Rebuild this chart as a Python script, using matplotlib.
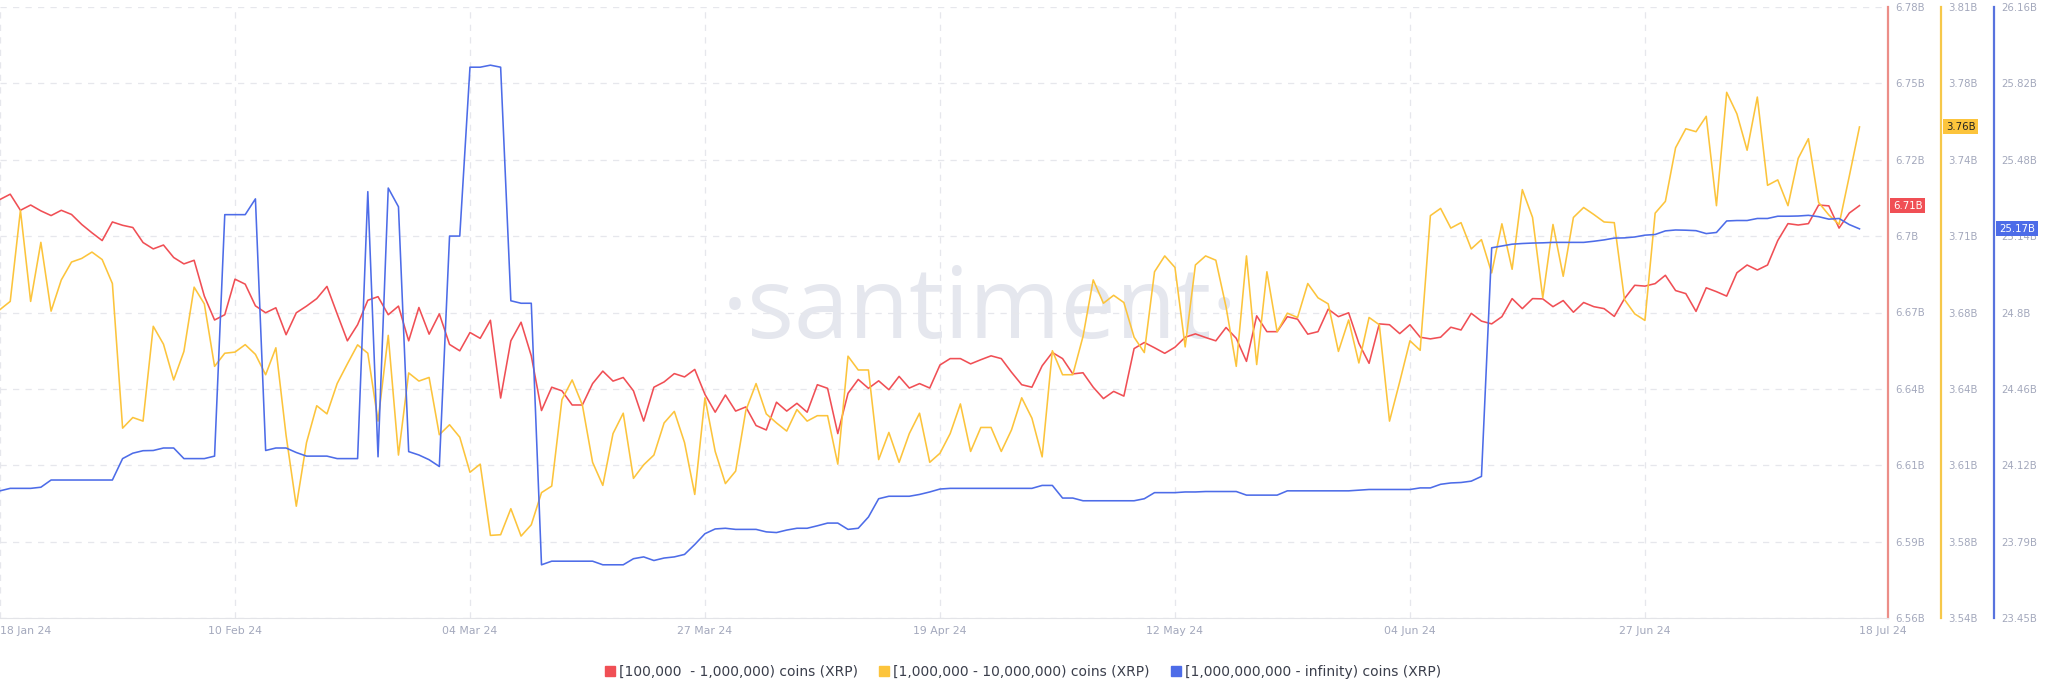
import matplotlib.pyplot as plt
from matplotlib.lines import Line2D
from matplotlib.transforms import blended_transform_factory
import pandas as pd

# daily values, 18 Jan 24 .. 18 Jul 24 (billions of XRP held per cohort)
dates = pd.date_range('2024-01-18', '2024-07-18', freq='D')

red_vals = [
    6.7107, 6.7126, 6.7068, 6.7087, 6.7066, 6.7049, 6.7068, 6.7053, 6.7017, 6.6987,
    6.6959, 6.7026, 6.7014, 6.7006, 6.6952, 6.6929, 6.6943, 6.6898, 6.6875, 6.6888,
    6.6759, 6.6673, 6.6692, 6.6820, 6.6802, 6.6724, 6.6699, 6.6717, 6.6620, 6.6699,
    6.6723, 6.6750, 6.6794, 6.6695, 6.6598, 6.6656, 6.6744, 6.6757, 6.6692, 6.6723,
    6.6598, 6.6718, 6.6622, 6.6695, 6.6585, 6.6562, 6.6628, 6.6607, 6.6672, 6.6392,
    6.6598, 6.6665, 6.6544, 6.6347, 6.6431, 6.6418, 6.6367, 6.6367, 6.6444, 6.6489,
    6.6453, 6.6466, 6.6418, 6.6309, 6.6431, 6.6450, 6.6480, 6.6468, 6.6495, 6.6405,
    6.6341, 6.6403, 6.6345, 6.6360, 6.6293, 6.6277, 6.6377, 6.6345, 6.6373, 6.6341,
    6.6440, 6.6427, 6.6264, 6.6409, 6.6459, 6.6427, 6.6454, 6.6422, 6.6470, 6.6428,
    6.6444, 6.6428, 6.6511, 6.6534, 6.6534, 6.6515, 6.6530, 6.6544, 6.6534, 6.6485,
    6.6440, 6.6431, 6.6508, 6.6556, 6.6534, 6.6479, 6.6483, 6.6431, 6.6390, 6.6416,
    6.6399, 6.6570, 6.6592, 6.6573, 6.6553, 6.6575, 6.6611, 6.6623, 6.6610, 6.6598,
    6.6646, 6.6607, 6.6524, 6.6688, 6.6631, 6.6631, 6.6685, 6.6676, 6.6622, 6.6631,
    6.6712, 6.6685, 6.6699, 6.6589, 6.6517, 6.6659, 6.6656, 6.6624, 6.6656, 6.6611,
    6.6605, 6.6611, 6.6647, 6.6637, 6.6697, 6.6669, 6.6659, 6.6685, 6.6750, 6.6714,
    6.6750, 6.6749, 6.6721, 6.6743, 6.6701, 6.6736, 6.6721, 6.6714, 6.6686, 6.6750,
    6.6798, 6.6795, 6.6804, 6.6834, 6.6779, 6.6768, 6.6704, 6.6789, 6.6775, 6.6759,
    6.6843, 6.6871, 6.6853, 6.6871, 6.6959, 6.7020, 6.7015, 6.7020, 6.7087, 6.7084,
    6.7004, 6.7058, 6.7085,
]

yellow_vals = [
    3.6763, 3.6799, 3.7202, 3.6799, 3.7060, 3.6756, 3.6894, 3.6973, 3.6989, 3.7017,
    3.6984, 3.6878, 3.6239, 3.6286, 3.6270, 3.6689, 3.6610, 3.6452, 3.6578, 3.6862,
    3.6788, 3.6512, 3.6570, 3.6575, 3.6608, 3.6565, 3.6475, 3.6594, 3.6207, 3.5894,
    3.6175, 3.6338, 3.6302, 3.6436, 3.6523, 3.6607, 3.6570, 3.6270, 3.6649, 3.6120,
    3.6483, 3.6447, 3.6463, 3.6210, 3.6254, 3.6199, 3.6044, 3.6080, 3.5765, 3.5768,
    3.5883, 3.5762, 3.5812, 3.5954, 3.5983, 3.6365, 3.6452, 3.6341, 3.6088, 3.5986,
    3.6215, 3.6305, 3.6017, 3.6077, 3.6120, 3.6262, 3.6313, 3.6175, 3.5946, 3.6373,
    3.6136, 3.5994, 3.6049, 3.6317, 3.6436, 3.6302, 3.6262, 3.6226, 3.6321, 3.6270,
    3.6294, 3.6294, 3.6080, 3.6557, 3.6496, 3.6496, 3.6100, 3.6220, 3.6088, 3.6215,
    3.6305, 3.6088, 3.6128, 3.6215, 3.6346, 3.6136, 3.6242, 3.6242, 3.6136, 3.6231,
    3.6373, 3.6283, 3.6112, 3.6581, 3.6475, 3.6475, 3.6644, 3.6894, 3.6791, 3.6826,
    3.6794, 3.6641, 3.6573, 3.6930, 3.7000, 3.6949, 3.6598, 3.6960, 3.7000, 3.6981,
    3.6775, 3.6512, 3.7000, 3.6520, 3.6930, 3.6665, 3.6747, 3.6728, 3.6878, 3.6815,
    3.6788, 3.6578, 3.6717, 3.6527, 3.6728, 3.6696, 3.6270, 3.6444, 3.6625, 3.6583,
    3.7178, 3.7210, 3.7123, 3.7147, 3.7031, 3.7072, 3.6925, 3.7142, 3.6941, 3.7293,
    3.7170, 3.6815, 3.7139, 3.6910, 3.7170, 3.7214, 3.7183, 3.7150, 3.7147, 3.6807,
    3.6744, 3.6715, 3.7189, 3.7241, 3.7478, 3.7562, 3.7549, 3.7617, 3.7222, 3.7723,
    3.7628, 3.7467, 3.7702, 3.7312, 3.7336, 3.7222, 3.7431, 3.7518, 3.7236, 3.7181,
    3.7139, 3.7352, 3.7570,
]

blue_vals = [
    24.014, 24.025, 24.025, 24.025, 24.030, 24.062, 24.062, 24.062, 24.062, 24.062,
    24.062, 24.062, 24.157, 24.181, 24.192, 24.193, 24.204, 24.204, 24.157, 24.157,
    24.157, 24.168, 25.239, 25.239, 25.239, 25.309, 24.193, 24.204, 24.204, 24.184,
    24.168, 24.168, 24.168, 24.157, 24.157, 24.157, 25.341, 24.165, 25.357, 25.274,
    24.188, 24.173, 24.152, 24.122, 25.144, 25.144, 25.893, 25.893, 25.902, 25.893,
    24.857, 24.846, 24.846, 23.686, 23.702, 23.702, 23.702, 23.702, 23.702, 23.686,
    23.686, 23.686, 23.713, 23.721, 23.705, 23.716, 23.721, 23.732, 23.776, 23.824,
    23.845, 23.848, 23.843, 23.843, 23.843, 23.832, 23.829, 23.840, 23.848, 23.848,
    23.859, 23.871, 23.871, 23.843, 23.848, 23.898, 23.979, 23.990, 23.990, 23.990,
    23.998, 24.009, 24.022, 24.025, 24.025, 24.025, 24.025, 24.025, 24.025, 24.025,
    24.025, 24.025, 24.038, 24.038, 23.982, 23.982, 23.970, 23.970, 23.970, 23.970,
    23.970, 23.970, 23.979, 24.006, 24.006, 24.006, 24.009, 24.009, 24.011, 24.011,
    24.011, 24.011, 23.995, 23.995, 23.995, 23.995, 24.014, 24.014, 24.014, 24.014,
    24.014, 24.014, 24.014, 24.017, 24.020, 24.020, 24.020, 24.020, 24.020, 24.027,
    24.027, 24.043, 24.049, 24.051, 24.057, 24.078, 25.092, 25.100, 25.108, 25.111,
    25.113, 25.114, 25.116, 25.116, 25.116, 25.116, 25.121, 25.127, 25.135, 25.136,
    25.140, 25.148, 25.151, 25.167, 25.171, 25.170, 25.168, 25.155, 25.160, 25.211,
    25.213, 25.213, 25.222, 25.222, 25.232, 25.232, 25.233, 25.236, 25.230, 25.219,
    25.222, 25.195, 25.176,
]

series_names = ['[100,000  - 1,000,000) coins (XRP)',
                '[1,000,000 - 10,000,000) coins (XRP)',
                '[1,000,000,000 - infinity) coins (XRP)']
colors = ['#f04f55', '#fcc43c', '#4d6ce8']
spine_colors = ['#ec8e88', '#f6c84a', '#5873de']

red_ticks = ['6.56B', '6.59B', '6.61B', '6.64B', '6.67B', '6.7B', '6.72B', '6.75B', '6.78B']
yellow_ticks = ['3.54B', '3.58B', '3.61B', '3.64B', '3.68B', '3.71B', '3.74B', '3.78B', '3.81B']
blue_ticks = ['23.45B', '23.79B', '24.12B', '24.46B', '24.8B', '25.14B', '25.48B', '25.82B', '26.16B']
ranges = [(6.56, 6.78), (3.54, 3.81), (23.45, 26.16)]
last_tags = ['6.71B', '3.76B', '25.17B']

date_ticks = ['2024-01-18', '2024-02-10', '2024-03-04', '2024-03-27', '2024-04-19',
              '2024-05-12', '2024-06-04', '2024-06-27', '2024-07-18']
date_labels = ['18 Jan 24', '10 Feb 24', '04 Mar 24', '27 Mar 24', '19 Apr 24',
               '12 May 24', '04 Jun 24', '27 Jun 24', '18 Jul 24']

label_color = '#a3a8bc'
grid_color = '#e6e7ec'

plt.rcParams['font.family'] = ['DejaVu Sans']

W, H = 2048, 693
fig = plt.figure(figsize=(W / 100, H / 100), dpi=100)
ax_left, ax_right, ax_top, ax_bottom = 0, 1888, 7, 618
ax = fig.add_axes([ax_left / W, 1 - ax_bottom / H, (ax_right - ax_left) / W, (ax_bottom - ax_top) / H])
ax2 = ax.twinx()
ax3 = ax.twinx()
axes = [ax, ax2, ax3]
spine_px = [1888, 1941, 1994]

# watermark
ax.text(980 / W, 1 - 338 / H, '\u00b7santiment\u00b7', transform=fig.transFigure,
        ha='center', va='baseline', fontsize=71, family='Open Sans',
        color='#e5e7ee', zorder=0.5)

all_vals = [red_vals, yellow_vals, blue_vals]
tick_lists = [red_ticks, yellow_ticks, blue_ticks]
for a, vals, col, scol, rng, tl, px, tag in zip(axes, all_vals, colors, spine_colors,
                                                  ranges, tick_lists, spine_px, last_tags):
    a.plot(dates, vals, color=col, lw=1.15, zorder=3)
    a.set_ylim(*rng)
    a.yaxis.tick_right()
    a.yaxis.set_label_position('right')
    step = (rng[1] - rng[0]) / 8
    a.set_yticks([rng[0] + i * step for i in range(9)])
    a.set_yticklabels(tl)
    for s in ['top', 'left', 'bottom']:
        a.spines[s].set_visible(False)
    a.spines['right'].set_visible(True)
    a.spines['right'].set_position(('axes', (px - ax_left) / (ax_right - ax_left)))
    a.spines['right'].set_color(scol)
    a.spines['right'].set_linewidth(1.6)
    a.tick_params(axis='y', which='both', left=False, labelleft=False, right=False,
                  labelright=True, length=0, pad=5, labelsize=7.3, labelcolor=label_color)
    # last value tag
    trans = blended_transform_factory(a.transAxes, a.transData)
    tx = (px + 5 - ax_left) / (ax_right - ax_left)
    tcol = 'white' if tag != '3.76B' else '#222222'
    a.text(tx, vals[-1], tag, transform=trans, ha='left', va='center', fontsize=7.3,
           color=tcol, zorder=10, clip_on=False,
           bbox=dict(boxstyle='square,pad=0.25', fc=col, ec='none'))

ax.grid(True, axis='both', color=grid_color, linestyle=(0, (5, 5)), linewidth=0.9)
ax.set_axisbelow(True)
ax.spines['bottom'].set_visible(True)
ax.spines['bottom'].set_color('#e3e4e8')

start = pd.Timestamp('2024-01-18')
ax.set_xlim(start, start + pd.Timedelta(days=(ax_right - ax_left) / 10.217))
ax.set_xticks(pd.to_datetime(date_ticks))
ax.set_xticklabels(date_labels)
ax.tick_params(axis='x', length=0, pad=6, labelsize=7.8, labelcolor=label_color)
xl = ax.get_xticklabels()
xl[0].set_ha('left')
xl[-1].set_ha('left')
# no vertical grid line at the last date
ax.xaxis.get_gridlines()[-1].set_visible(False)

handles = [Line2D([], [], marker='s', color=c, linestyle='none', markersize=7.5) for c in colors]
fig.legend(handles, series_names, loc='center', bbox_to_anchor=(1022 / W, 1 - 672 / H),
           ncol=3, frameon=False, fontsize=10, handletextpad=0.15, columnspacing=1.4,
           labelcolor='#3b3f4c', handlelength=1.0)

fig.savefig('out.png', dpi=100, facecolor='white')
